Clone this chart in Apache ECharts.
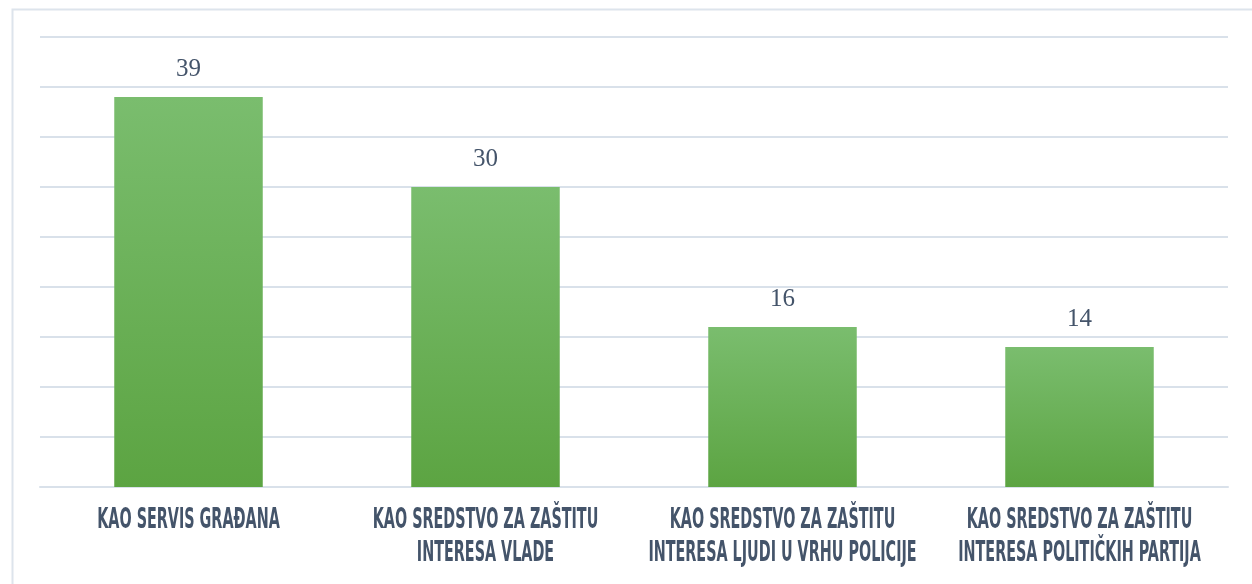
<!DOCTYPE html>
<html>
<head>
<meta charset="utf-8">
<script src="https://cdn.jsdelivr.net/npm/echarts@6/dist/echarts.min.js"></script>
<style>html,body{margin:0;padding:0;background:#fff;}#c{width:1252px;height:584px;}</style>
</head>
<body>
<div id="c"></div>
<script>
const categories = [
  'KAO SERVIS GRAĐANA',
  'KAO SREDSTVO ZA ZAŠTITU\nINTERESA VLADE',
  'KAO SREDSTVO ZA ZAŠTITU\nINTERESA LJUDI U VRHU POLICIJE',
  'KAO SREDSTVO ZA ZAŠTITU\nINTERESA POLITIČKIH PARTIJA'
];
const values = [39, 30, 16, 14];

const chart = echarts.init(document.getElementById('c'), null, {renderer: 'canvas'});
chart.setOption({
  animation: false,
  grid: {left: 40, right: 24, top: 37, bottom: 97},
  xAxis: {
    type: 'category',
    data: categories,
    axisTick: {show: false},
    axisLine: {lineStyle: {color: '#d9e1ea', width: 2}},
    axisLabel: {show: false}
  },
  yAxis: {
    type: 'value', min: 0, max: 45, interval: 5,
    axisLabel: {show: false},
    axisLine: {show: false},
    axisTick: {show: false},
    splitLine: {lineStyle: {color: '#d9e1ea', width: 2}}
  },
  series: [{
    type: 'bar',
    data: values,
    barWidth: '50%',
    itemStyle: {
      color: new echarts.graphic.LinearGradient(0, 0, 0, 1, [
        {offset: 0, color: '#7abd6e'},
        {offset: 1, color: '#5ca442'}
      ])
    },
    label: {
      show: true, position: 'top', distance: 15,
      color: '#44546a',
      fontFamily: '"Liberation Serif", "DejaVu Serif", serif',
      fontSize: 25
    }
  }]
});

// Condensed category labels placed at the category positions from the axis scale
const baseY = chart.convertToPixel({yAxisIndex: 0}, 0);
const labelGraphics = categories.map((c, i) => ({
  type: 'text',
  x: chart.convertToPixel({xAxisIndex: 0}, i),
  y: baseY + 17,
  scaleX: 0.55,
  silent: true,
  style: {
    text: c,
    fill: '#44546a',
    font: 'bold 29px "DejaVu Sans Condensed", "DejaVu Sans", sans-serif',
    align: 'center',
    verticalAlign: 'top',
    lineHeight: 33
  }
}));
chart.setOption({
  graphic: [{
    type: 'rect', left: 10, top: 7, silent: true, z: -10,
    shape: {width: 1300, height: 640},
    style: {fill: 'none', stroke: '#dde4ec', lineWidth: 2}
  }].concat(labelGraphics)
});
</script>
</body>
</html>
